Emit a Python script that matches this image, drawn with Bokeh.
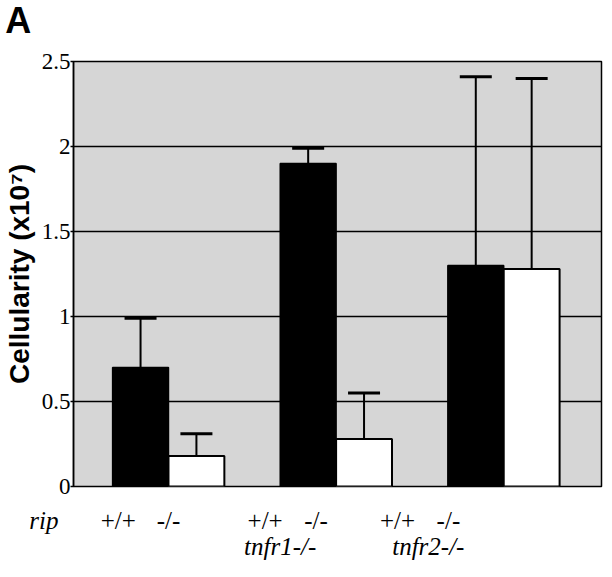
from bokeh.plotting import figure
from bokeh.models import ColumnDataSource, Range1d, FixedTicker, Whisker, TeeHead
from bokeh.layouts import column
from bokeh.core.properties import value
from bokeh.embed import file_html
from bokeh.resources import INLINE

# ---- data ----
group_labels = ["rip", "tnfr1-/-", "tnfr2-/-"]
genotype_labels = ["+/+", "-/-"]
black_vals = [0.70, 1.90, 1.30]   # rip +/+
black_err = [0.29, 0.09, 1.11]
white_vals = [0.18, 0.28, 1.28]   # rip -/-
white_err = [0.13, 0.27, 1.12]
y_ticks = [0, 0.5, 1, 1.5, 2, 2.5]
y_tick_labels = ["0", "0.5", "1", "1.5", "2", "2.5"]

# ---- layout ----
W = 604
FRAME_L, FRAME_R, FRAME_T, FRAME_B = 73, 601, 61, 486
X_LO, X_HI = -0.7, 8.75
Y_LO, Y_HI = 0.0, 2.5
PXX = (FRAME_R - FRAME_L) / (X_HI - X_LO)
PXY = (FRAME_B - FRAME_T) / (Y_HI - Y_LO)
FULL_X = (X_LO - FRAME_L / PXX, X_HI + (W - FRAME_R) / PXX)
PAD = 15
TOP_H = FRAME_T - PAD
MAIN_H = (FRAME_B - FRAME_T) + 2 * PAD
BOT_H = 70


def y_of(py):
    return (FRAME_B - py) / PXY


black_x = [3 * i + 0.5 for i in range(3)]
white_x = [3 * i + 1.5 for i in range(3)]
plus_label_x = [0.10, 2.73, 5.10]
minus_label_x = [1.00, 3.64, 6.01]
group_label_x = [-1.23, 3.0, 5.65]
row1_y = y_of(520)
row2_y = y_of(546)

black_src = ColumnDataSource(dict(
    x=black_x, top=black_vals,
    upper=[v + e for v, e in zip(black_vals, black_err)]))
white_src = ColumnDataSource(dict(
    x=white_x, top=white_vals,
    upper=[v + e for v, e in zip(white_vals, white_err)]))


def blank(h, y_range):
    f = figure(width=W, height=h, output_backend="svg", toolbar_location=None,
               x_range=Range1d(*FULL_X), y_range=y_range,
               x_axis_location=None, y_axis_location=None,
               min_border=0)
    f.min_border_left = 0
    f.min_border_right = 0
    f.min_border_top = 0
    f.min_border_bottom = 0
    f.frame_align = False
    f.outline_line_color = None
    f.background_fill_color = "white"
    f.border_fill_color = "white"
    f.grid.visible = False
    return f


# top strip with panel letter
top = blank(TOP_H, Range1d(y_of(TOP_H), y_of(0)))
top.text(x=[-1.69], y=[y_of(20)], text=["A"], text_font=value("Liberation Sans"),
         text_font_style="bold", text_font_size="36px",
         text_align="center", text_baseline="middle", text_color="black")

# main plot
p = figure(width=W, height=MAIN_H, output_backend="svg", toolbar_location=None,
           x_range=Range1d(X_LO, X_HI), y_range=Range1d(Y_LO, Y_HI),
           min_border_left=FRAME_L, min_border_right=W - FRAME_R,
           min_border_top=PAD, min_border_bottom=PAD)
p.frame_align = False

p.background_fill_color = "#d6d6d6"
p.border_fill_color = "white"
p.outline_line_color = "black"
p.outline_line_width = 1.5

p.xaxis.visible = False
p.xgrid.visible = False
p.ygrid.grid_line_color = "black"
p.ygrid.grid_line_width = 1.5
p.ygrid.ticker = FixedTicker(ticks=y_ticks)

ax = p.yaxis[0]
ax.ticker = FixedTicker(ticks=y_ticks)
ax.major_label_overrides = {t: l for t, l in zip(y_ticks, y_tick_labels)}
ax.major_label_text_font = "Liberation Serif"
ax.major_label_text_font_size = "23px"
ax.major_label_text_color = "black"
ax.major_label_standoff = 0
ax.major_tick_out = 3
ax.major_tick_in = 0
ax.minor_tick_out = 0
ax.minor_tick_in = 0
ax.axis_line_color = "black"
ax.axis_line_width = 1.5
ax.major_tick_line_width = 1.5
ax.axis_label = "Cellularity (x10\u2077)"
ax.axis_label_text_font = "Liberation Sans"
ax.axis_label_text_font_style = "bold"
ax.axis_label_text_font_size = "28px"
ax.axis_label_text_color = "black"
ax.axis_label_standoff = 4

p.vbar(x="x", top="top", width=1.0, bottom=0, source=black_src,
       fill_color="black", line_color="black", line_width=1.5)
p.vbar(x="x", top="top", width=1.0, bottom=0, source=white_src,
       fill_color="white", line_color="black", line_width=2)

for src in (black_src, white_src):
    w = Whisker(source=src, base="x", lower="top", upper="upper",
                line_color="black", line_width=2,
                upper_head=TeeHead(size=32, line_color="black", line_width=3),
                lower_head=None)
    p.add_layout(w)

# bottom strip with genotype labels
bot = blank(BOT_H, Range1d(y_of(FRAME_B + PAD + BOT_H), y_of(FRAME_B + PAD)))
serif = value("Liberation Serif")
bot.text(x=plus_label_x + minus_label_x,
         y=[row1_y] * 6,
         text=[genotype_labels[0]] * 3 + [genotype_labels[1]] * 3,
         text_font=serif, text_font_size="25px", text_color="black",
         text_align="center", text_baseline="middle")
bot.text(x=group_label_x,
         y=[row1_y, row2_y, row2_y],
         text=group_labels,
         text_font=serif, text_font_style="italic", text_font_size="25px",
         text_color="black", text_align="center", text_baseline="middle")

layout = column(top, p, bot, spacing=0)
open("out.html", "w").write(file_html(layout, INLINE))
